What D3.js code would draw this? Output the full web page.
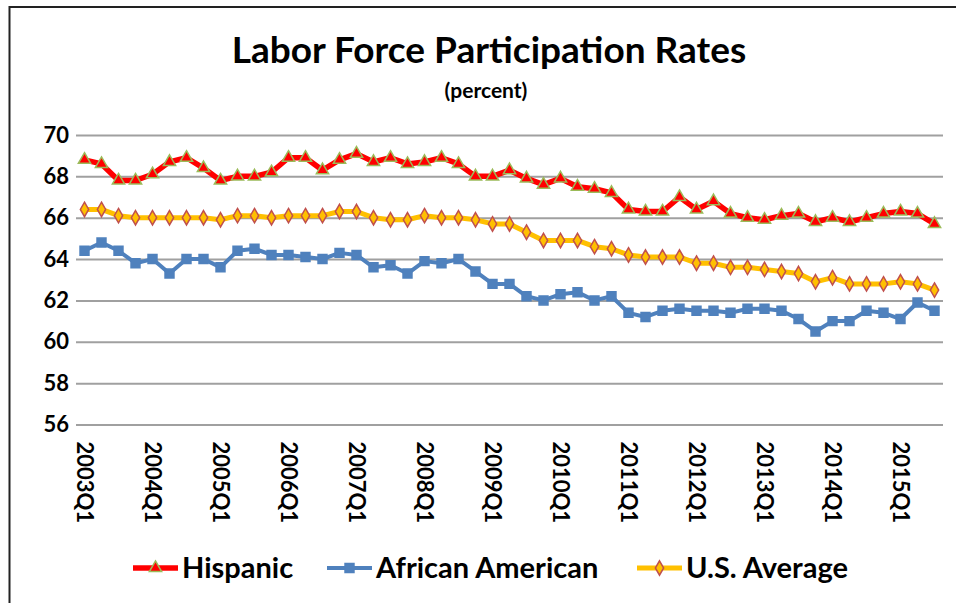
<!DOCTYPE html>
<html>
<head>
<meta charset="utf-8">
<script src="https://cdn.jsdelivr.net/npm/d3@7"></script>
<style>
  body { margin: 0; background: #fff; }
  svg { display: block; font-family: Lato, "Open Sans", sans-serif; }
</style>
</head>
<body>
<div id="chart"></div>
<script>

// quarters 2003Q1 .. 2015Q3
var years = d3.range(2003, 2016);
var quarters = [];
years.forEach(function (y) {
    [1, 2, 3, 4].forEach(function (q) {
        if (y === 2015 && q > 3) return;
        quarters.push(y + "Q" + q);
    });
});

var hispanic = [
    68.8, 68.6, 67.8, 67.8, 68.1, 68.7, 68.9, 68.4, 67.8, 68.0, 68.0, 68.2, 68.9, 68.9, 68.3, 68.8,
    69.1, 68.7, 68.9, 68.6, 68.7, 68.9, 68.6, 68.0, 68.0, 68.3, 67.9, 67.6, 67.9, 67.5, 67.4, 67.2,
    66.4, 66.3, 66.3, 67.0, 66.4, 66.8, 66.2, 66.0, 65.9, 66.1, 66.2, 65.8, 66.0, 65.8, 66.0, 66.2,
    66.3, 66.2, 65.7
];

var africanAmerican = [
    64.4, 64.8, 64.4, 63.8, 64.0, 63.3, 64.0, 64.0, 63.6, 64.4, 64.5, 64.2, 64.2, 64.1, 64.0, 64.3,
    64.2, 63.6, 63.7, 63.3, 63.9, 63.8, 64.0, 63.4, 62.8, 62.8, 62.2, 62.0, 62.3, 62.4, 62.0, 62.2,
    61.4, 61.2, 61.5, 61.6, 61.5, 61.5, 61.4, 61.6, 61.6, 61.5, 61.1, 60.5, 61.0, 61.0, 61.5, 61.4,
    61.1, 61.9, 61.5
];

var usAverage = [
    66.4, 66.4, 66.1, 66.0, 66.0, 66.0, 66.0, 66.0, 65.9, 66.1, 66.1, 66.0, 66.1, 66.1, 66.1, 66.3,
    66.3, 66.0, 65.9, 65.9, 66.1, 66.0, 66.0, 65.9, 65.7, 65.7, 65.3, 64.9, 64.9, 64.9, 64.6, 64.5,
    64.2, 64.1, 64.1, 64.1, 63.8, 63.8, 63.6, 63.6, 63.5, 63.4, 63.3, 62.9, 63.1, 62.8, 62.8, 62.8,
    62.9, 62.8, 62.5
];

var yTicks = [56, 58, 60, 62, 64, 66, 68, 70];

var width = 956, height = 603;

var svg = d3.select("#chart").append("svg")
    .attr("width", width)
    .attr("height", height);

// outer chart frame (runs off the picture on right and bottom)
svg.append("rect")
    .attr("x", 9.5)
    .attr("y", 7)
    .attr("width", 980)
    .attr("height", 640)
    .attr("fill", "#fff")
    .attr("stroke", "#222")
    .attr("stroke-width", 2);

svg.append("text")
    .attr("x", 489)
    .attr("y", 63)
    .attr("text-anchor", "middle")
    .style("font-size", "37px")
    .style("font-weight", "bold")
    .text("Labor Force Participation Rates");

svg.append("text")
    .attr("x", 486)
    .attr("y", 98)
    .attr("text-anchor", "middle")
    .style("font-size", "21px")
    .style("font-weight", "bold")
    .text("(percent)");

var x = d3.scaleBand()
    .domain(quarters)
    .range([76, 943])
    .padding(0);

var y = d3.scaleLinear()
    .domain([56, 70])
    .range([424.5, 135]);

function cx(d, i) { return x(quarters[i]) + x.bandwidth() / 2; }

// gridlines
var yAxis = d3.axisLeft(y)
    .tickValues(yTicks)
    .tickSize(-(943 - 76))
    .tickPadding(8)
    .tickFormat(d3.format("d"));

var gy = svg.append("g")
    .attr("transform", "translate(76,0)")
    .call(yAxis);
gy.select(".domain").remove();
gy.selectAll(".tick line")
    .attr("stroke", "#a0a0a0")
    .attr("stroke-width", 2);
gy.selectAll(".tick text")
    .attr("x", -7)
    .style("font-size", "22px")
    .style("font-weight", "bold")
    .style("font-family", "Lato, sans-serif")
    .attr("fill", "#000");

// x labels, only Q1
var xAxis = d3.axisBottom(x)
    .tickValues(quarters.filter(function (q) { return q.slice(4) === "Q1"; }))
    .tickSize(0)
    .tickPadding(0);

var gx = svg.append("g")
    .attr("transform", "translate(0,424.5)")
    .call(xAxis);
gx.select(".domain").remove();
gx.selectAll(".tick text")
    .attr("transform", "translate(0,17) rotate(90)")
    .attr("x", 0)
    .attr("y", 0)
    .attr("dy", "0.35em")
    .style("text-anchor", "start")
    .style("font-size", "22px")
    .style("font-weight", "bold")
    .style("font-family", "Lato, sans-serif")
    .attr("fill", "#000");

var line = d3.line()
    .x(cx)
    .y(function (d) { return y(d); });

var series = [
    { name: "Hispanic", values: hispanic, stroke: "#ff0000", width: 5.5, marker: "triangle", fill: "#ff0000", mstroke: "#9bbb59" },
    { name: "African American", values: africanAmerican, stroke: "#4f81bd", width: 4, marker: "square", fill: "#4f81bd", mstroke: "#4f81bd" },
    { name: "U.S. Average", values: usAverage, stroke: "#ffc000", width: 5, marker: "diamond", fill: "#ffc000", mstroke: "#c0504d" }
];

var symbols = {
    triangle: d3.symbol().type(d3.symbolTriangle).size(65),
    square: d3.symbol().type(d3.symbolSquare).size(80),
    diamond: d3.symbol().type(d3.symbolDiamond).size(60)
};

// draw blue first, then yellow, then red on top (as in the original)
[series[1], series[2], series[0]].forEach(function (s) {
    svg.append("path")
        .datum(s.values)
        .attr("fill", "none")
        .attr("stroke", s.stroke)
        .attr("stroke-width", s.width)
        .attr("stroke-linejoin", "round")
        .attr("d", line);

    svg.append("g").selectAll("path")
        .data(s.values)
        .enter()
        .append("path")
        .attr("d", symbols[s.marker])
        .attr("transform", function (d, i) { return "translate(" + cx(d, i) + "," + y(d) + ")"; })
        .attr("fill", s.fill)
        .attr("stroke", s.mstroke)
        .attr("stroke-width", 1.5);
});

// legend
var legendX = [133, 327, 637];
var leg = svg.append("g").selectAll("g")
    .data(series)
    .enter()
    .append("g")
    .attr("transform", function (d, i) { return "translate(" + legendX[i] + ",568)"; });

leg.append("line")
    .attr("x1", 0)
    .attr("x2", 45)
    .attr("stroke", function (d) { return d.stroke; })
    .attr("stroke-width", function (d) { return d.width; });

leg.append("path")
    .attr("d", function (d) { return symbols[d.marker](); })
    .attr("transform", "translate(22.5,0)")
    .attr("fill", function (d) { return d.fill; })
    .attr("stroke", function (d) { return d.mstroke; })
    .attr("stroke-width", 1.5);

leg.append("text")
    .attr("x", 49)
    .attr("dy", "0.35em")
    .style("font-size", "29px")
    .style("font-weight", "bold")
    .text(function (d) { return d.name; });

</script>
</body>
</html>
